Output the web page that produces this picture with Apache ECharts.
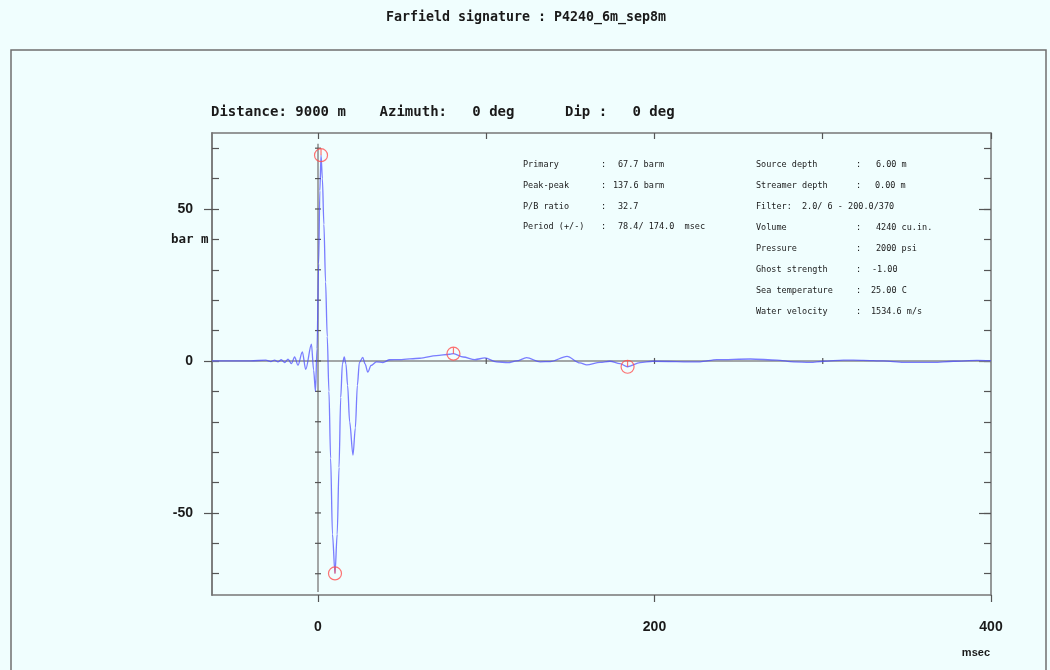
<!DOCTYPE html>
<html>
<head>
<meta charset="utf-8">
<script src="https://cdn.jsdelivr.net/npm/echarts@6/dist/echarts.min.js"></script>
<style>
  html, body { margin: 0; padding: 0; background: #f0fefe; }
  #chart { width: 1050px; height: 670px; }
</style>
</head>
<body>
<div id="chart"></div>
<script>
// Farfield signature trace (time in msec, amplitude in bar m)
const timeMs = [
  -63, -40, -31, -28, -25.8, -23.8, -21.8, -19.8, -17.8, -15.8, -13.9, -11.9,
  -9.3, -7.3, -3.9, -2.6, -1.5, -0.6, 0.4, 1.1, 1.8, 2.6, 3.5, 4.5, 5.5, 6.5,
  7.5, 8.6, 10.1, 11.4, 12.5, 13.5, 14.5, 15.6, 16.6, 17.6, 18.8, 20.8, 22.2,
  23.4, 24.6, 26.6, 28, 29.6, 31.5, 34.7, 38.6, 42.6, 48.6, 60.5, 70.4, 78.3,
  80.5, 86.3, 93.2, 99.2, 106, 113, 118, 124, 132, 138, 148, 155.7, 159.7,
  167.6, 173.5, 179.5, 184, 191.4, 199, 227, 237, 257, 272.7, 282.6, 292.5,
  300.4, 312.3, 324, 336, 348, 366, 377.6, 391.7, 400
];
const amplitude = [
  0, 0, 0.3, -0.2, 0.3, -0.3, 0.4, -0.5, 0.6, -0.9, 1.3, -1.4,
  3.0, -2.8, 5.5, -3, -10, 4, 32, 56, 67.7, 60, 45, 26, 8, -10,
  -32, -57, -69.9, -57, -35, -12, -1, 1.3, -1, -8, -20, -31, -22,
  -8, -0.5, 1.2, -1, -3.7, -1.5, -0.3, -0.5, 0.4, 0.45, 0.9, 1.75, 2.2,
  2.4, 1.3, 0.45, 1.0, -0.3, -0.55, 0, 1.1, -0.3, -0.2, 1.5, -0.65, -1.3,
  -0.45, -0.1, -0.9, -1.9, -0.55, -0.1, -0.3, 0.45, 0.65, 0.3, -0.3, -0.45,
  -0.1, 0.3, 0.2, 0, -0.45, -0.45, -0.1, 0.2, 0.1
];

// Primary peak / trough and bubble peak / trough
const pickTimes = [1.8, 10.1, 80.5, 184];
const pickValues = [67.7, -69.9, 2.4, -1.9];

// Axis ticks and labels
const xLabelValues = [0, 200, 400];
const xTickValues = [0, 100, 200, 300, 400];
const yLabelValues = [-50, 0, 50];
const yTickValues = [-70, -60, -50, -40, -30, -20, -10, 0, 10, 20, 30, 40, 50, 60, 70];
const xRange = [-63, 400];
const yRange = [-77, 75];
const zeroLineSpan = [-76, 71.5];

// Header texts
const titleText = 'Farfield signature : P4240_6m_sep8m';
const headerText = 'Distance: 9000 m    Azimuth:   0 deg      Dip :   0 deg';
const yUnit = 'bar m';
const xUnit = 'msec';

// Source parameter table
const infoLeftLabels = ['Primary', 'Peak-peak', 'P/B ratio', 'Period (+/-)'];
const infoLeftValues = ['67.7 barm', '137.6 barm', '32.7', '78.4/ 174.0  msec'];
const infoRightLabels = ['Source depth', 'Streamer depth', 'Filter:', 'Volume', 'Pressure',
  'Ghost strength', 'Sea temperature', 'Water velocity'];
const infoRightValues = ['6.00 m', '0.00 m', '2.0/ 6 - 200.0/370', '4240 cu.in.', '2000 psi',
  '-1.00', '25.00 C', '1534.6 m/s'];

const trace = timeMs.map((t, i) => [t, amplitude[i]]);
const picks = pickTimes.map((t, i) => [t, pickValues[i]]);

const chart = echarts.init(document.getElementById('chart'), null, { renderer: 'canvas' });

const axisGray = '#777777';
const textDark = '#1a1a1a';
const smallFont = '"DejaVu Sans Mono", monospace';

function textEl(x, y, text, opts) {
  return {
    type: 'text', x: x, y: y, silent: true,
    style: Object.assign({
      text: text, fill: textDark, font: '8.5px ' + smallFont,
      textAlign: 'left', textVerticalAlign: 'middle'
    }, opts || {})
  };
}

const graphics = [
  { type: 'rect', silent: true, z: -1,
    shape: { x: 11, y: 50, width: 1035, height: 630 },
    style: { fill: 'none', stroke: '#6f6f6f', lineWidth: 1.5 } },
  textEl(526, 18, titleText, { font: 'bold 13.3px "DejaVu Sans Mono", monospace', textAlign: 'center' }),
  textEl(211, 112, headerText, { font: 'bold 14px "DejaVu Sans Mono", monospace' }),
  textEl(171, 240, yUnit, { font: 'bold 12.5px "DejaVu Sans Mono", monospace' }),
  textEl(990, 653, xUnit, { font: 'bold 11px "Liberation Sans", sans-serif', textAlign: 'right' })
];

const leftRowY = [165, 186, 206.5, 227];
const leftValueX = [618, 613, 618, 618];
infoLeftLabels.forEach((lab, i) => {
  graphics.push(textEl(523, leftRowY[i], lab));
  graphics.push(textEl(601, leftRowY[i], ':'));
  graphics.push(textEl(leftValueX[i], leftRowY[i], infoLeftValues[i]));
});

const rightRowY = [164.5, 186, 207, 227.5, 248.5, 269.5, 290.5, 312];
const rightValueX = [876, 875, 802, 876, 876, 872, 871, 871];
infoRightLabels.forEach((lab, i) => {
  graphics.push(textEl(756, rightRowY[i], lab));
  if (lab !== 'Filter:') graphics.push(textEl(856, rightRowY[i], ':'));
  graphics.push(textEl(rightValueX[i], rightRowY[i], infoRightValues[i]));
});

function baseAxis(extra) {
  return Object.assign({
    type: 'value',
    splitLine: { show: false },
    axisLine: { show: true, onZero: false, lineStyle: { color: axisGray, width: 1.5 } },
    axisLabel: { show: false },
    axisTick: { show: false }
  }, extra);
}

const tickLine = { color: '#555', width: 1.2 };

const xAxes = [
  baseAxis({
    position: 'bottom', min: xRange[0], max: xRange[1],
    axisTick: { show: true, inside: false, length: 7, customValues: xLabelValues, lineStyle: tickLine },
    axisLabel: { show: true, customValues: xLabelValues, margin: 25,
      fontFamily: '"Liberation Sans", Arial, sans-serif', fontWeight: 'bold',
      fontSize: 14, color: textDark }
  }),
  baseAxis({
    position: 'top', min: xRange[0], max: xRange[1],
    axisTick: { show: true, inside: true, length: 6, customValues: xTickValues, lineStyle: tickLine }
  })
];

const yAxes = [
  baseAxis({
    position: 'left', min: yRange[0], max: yRange[1],
    axisTick: { show: true, inside: false, length: 8, customValues: yLabelValues, lineStyle: tickLine },
    axisLabel: { show: true, customValues: yLabelValues, margin: 19,
      fontFamily: '"Liberation Sans", Arial, sans-serif', fontWeight: 'bold',
      fontSize: 14, color: textDark }
  }),
  baseAxis({
    position: 'left', min: yRange[0], max: yRange[1],
    axisTick: { show: true, inside: true, length: 7, customValues: yTickValues, lineStyle: tickLine }
  }),
  baseAxis({
    position: 'right', min: yRange[0], max: yRange[1],
    axisTick: { show: true, inside: true, length: 7, customValues: yTickValues, lineStyle: tickLine }
  }),
  baseAxis({
    position: 'right', min: yRange[0], max: yRange[1],
    axisLine: { show: false, onZero: false },
    axisTick: { show: true, inside: true, length: 12, customValues: yLabelValues, lineStyle: tickLine }
  })
];

// Zero-time and zero-amplitude reference lines with their own ticks
function renderZeroCross(params, api) {
  const children = [];
  const lineStyle = { stroke: '#8a8a8a', lineWidth: 1.5 };
  const tickStyle = { stroke: '#555', lineWidth: 1.2 };
  const h0 = api.coord([xRange[0], 0]);
  const h1 = api.coord([xRange[1], 0]);
  children.push({ type: 'line', shape: { x1: h0[0], y1: h0[1], x2: h1[0], y2: h1[1] }, style: lineStyle });
  const v0 = api.coord([0, zeroLineSpan[0]]);
  const v1 = api.coord([0, zeroLineSpan[1]]);
  children.push({ type: 'line', shape: { x1: v0[0], y1: v0[1], x2: v1[0], y2: v1[1] }, style: lineStyle });
  yTickValues.forEach(v => {
    const p = api.coord([0, v]);
    children.push({ type: 'line', shape: { x1: p[0] - 3, y1: p[1], x2: p[0] + 3, y2: p[1] }, style: tickStyle });
  });
  xTickValues.forEach(t => {
    if (t === 0 || t === xRange[1]) return;
    const p = api.coord([t, 0]);
    children.push({ type: 'line', shape: { x1: p[0], y1: p[1] - 3, x2: p[0], y2: p[1] + 3 }, style: tickStyle });
  });
  return { type: 'group', children: children };
}

const pickSymbol = 'path://M0,-10A10,10,0,1,1,0,10A10,10,0,1,1,0,-10ZM0,-10L0,0';

chart.setOption({
  backgroundColor: '#f0fefe',
  animation: false,
  grid: { left: 212, right: 59, top: 133, bottom: 75, containLabel: false },
  xAxis: xAxes,
  yAxis: yAxes,
  graphic: graphics,
  series: [
    {
      type: 'custom', xAxisIndex: 0, yAxisIndex: 0, silent: true, z: 1,
      renderItem: renderZeroCross, data: [[0, 0]]
    },
    {
      type: 'line', xAxisIndex: 0, yAxisIndex: 0, z: 2,
      data: trace, showSymbol: false, smooth: 0.3, smoothMonotone: 'x',
      lineStyle: { color: '#4b4bff', width: 1.3, opacity: 0.72 }
    },
    {
      type: 'scatter', xAxisIndex: 0, yAxisIndex: 0, z: 3,
      data: picks, symbol: pickSymbol, symbolSize: 13, symbolKeepAspect: true,
      itemStyle: { color: 'rgba(0,0,0,0)', borderColor: '#ff4f4f', borderWidth: 1.2 }
    }
  ]
});
</script>
</body>
</html>
